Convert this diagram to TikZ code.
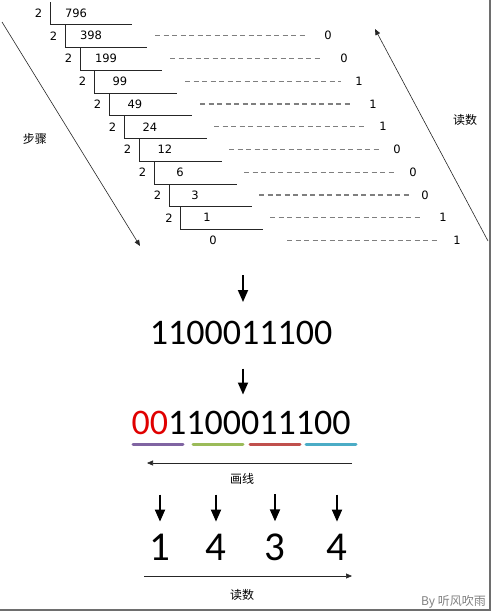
\documentclass[tikz,border=0pt]{standalone}
\usepackage{fontspec}
\usepackage{xcolor}
\usepackage{tikz}
\usetikzlibrary{arrows.meta}
\usetikzlibrary{calc}
\newfontfamily\cjk{Noto Sans CJK SC}
\newfontfamily\ladder{DejaVu Sans}
\newfontfamily\bignum{Carlito}
\definecolor{dashgray}{HTML}{7F7F7F}
\definecolor{framegray}{HTML}{6E6E6E}
\definecolor{barpurple}{HTML}{8064A2}
\definecolor{bargreen}{HTML}{9BBB59}
\definecolor{barred}{HTML}{C0504D}
\definecolor{barteal}{HTML}{4BACC6}
\definecolor{zerored}{HTML}{E00000}

\begin{document}
\begin{tikzpicture}[x=1pt,y=-1pt,
	small/.style={font=\ladder\fontsize{11.5}{13}\selectfont,inner sep=0pt},
	big/.style={font=\bignum\fontsize{36}{40}\selectfont,inner sep=0pt},
	huge/.style={font=\bignum\fontsize{41}{45}\selectfont,inner sep=0pt},
	cnlabel/.style={font=\cjk\fontsize{12}{14}\selectfont,inner sep=0pt},
	rule/.style={draw=black!85,line width=0.8pt},
	dashrule/.style={draw=dashgray,line width=1.2pt,dash pattern=on 5pt off 3.5pt},
	bar/.style={draw=#1,line width=3pt,line cap=round},
	thinarrow/.style={draw=black!85,line width=0.6pt,-{Triangle[length=6pt,width=5pt]}},
	bigarrow/.style={draw=black,line width=1.8pt,-{Triangle[length=12pt,width=10pt]}}]
	\useasboundingbox (0,0) rectangle (493,614);
	% division ladder
	\foreach \q/\xv/\xq/\xe [count=\ii from 0] in {796/50/76/132, 398/65/91/147, 199/80/106/162, 99/94/120/177, 49/109/135/192, 24/124/150/207, 12/139/165/222, 6/154/180/237, 3/169/195/252, 1/180.5/207/263}
	{
		\pgfmathsetmacro\yq{13+22.75*\ii}
		\node[small] (d\ii) at (\xv-11.5,\yq) {2};
		\node[small] (q\ii) at (\xq,\yq) {\q};
		\draw[rule] (\xv,\yq-11) -- (\xv,\yq+11.7) -- (\xe,\yq+11.7);
	}
	\node[small] (q10) at (213,240.5) {0};
	% remainders
	\foreach \r/\xs/\xe/\xr [count=\ii from 1] in {0/155/306/328, 0/170/321/344, 1/185/341/359, 1/200/350/373, 1/214/365/383, 0/229/380/397, 0/244/395/413, 0/259/411/425, 1/270/422/443, 1/287/439/457}
	{
		\pgfmathsetmacro\yq{13+22.75*\ii}
		\coordinate (s\ii) at (\xs,\yq);
		\coordinate (e\ii) at (\xe,\yq);
		\node[small] (r\ii) at (\xr,\yq) {\r};
		\draw[dashrule] (s\ii) -- (e\ii);
	}
	% steps and reading direction
	\coordinate (stepTop) at (2,22);
	\coordinate (stepEnd) at (140,246);
	\draw[thinarrow] (stepTop) -- (stepEnd);
	\node[cnlabel] (stepLabel) at (35,139) {步骤};
	\coordinate (readBot) at (488,241);
	\coordinate (readTop) at (375,29);
	\draw[thinarrow] (readBot) -- (readTop);
	\node[cnlabel] (readLabel) at (465,120) {读数};
	% binary
	\node[big] (bin) at (241,333) {1100011100};
	\draw[bigarrow] ([xshift=2pt,yshift=46pt]bin.north) -- ([xshift=2pt,yshift=19pt]bin.north);
	\node[big] (padded) at (241,423) {\textcolor{zerored}{00}1100011100};
	\draw[bigarrow] ([xshift=2pt,yshift=-23.5pt]bin.south) -- ([xshift=2pt,yshift=16.5pt]padded.north);
	\foreach \c/\xa/\xb in {barpurple/133/183, bargreen/193/243, barred/250/300, barteal/306/356}
	\draw[bar=\c] (\xa,444) -- (\xb,444);
	\coordinate (lineR) at (352,463);
	\coordinate (lineL) at (147,463);
	\draw[thinarrow] (lineR) -- (lineL);
	\node[cnlabel] (lineLabel) at (242,479) {画线};
	% octal
	\foreach \d/\x [count=\ii] in {1/160, 4/216, 3/275, 4/337}
	{
		\node[huge] (o\ii) at (\x,547) {\d};
		\draw[bigarrow] ([yshift=39pt]o\ii.north) -- ([yshift=12pt]o\ii.north);
	}
	\coordinate (octL) at (144,576);
	\coordinate (octR) at (352,576);
	\draw[thinarrow] (octL) -- (octR);
	\node[cnlabel] (octLabel) at (242,595) {读数};
	\node[cnlabel,text=gray,anchor=east] (credit) at (486,602) {By 听风吹雨};
	\draw[framegray,line width=2pt] (0,610) -- (490,610) -- (490,0);
\end{tikzpicture}
\end{document}
